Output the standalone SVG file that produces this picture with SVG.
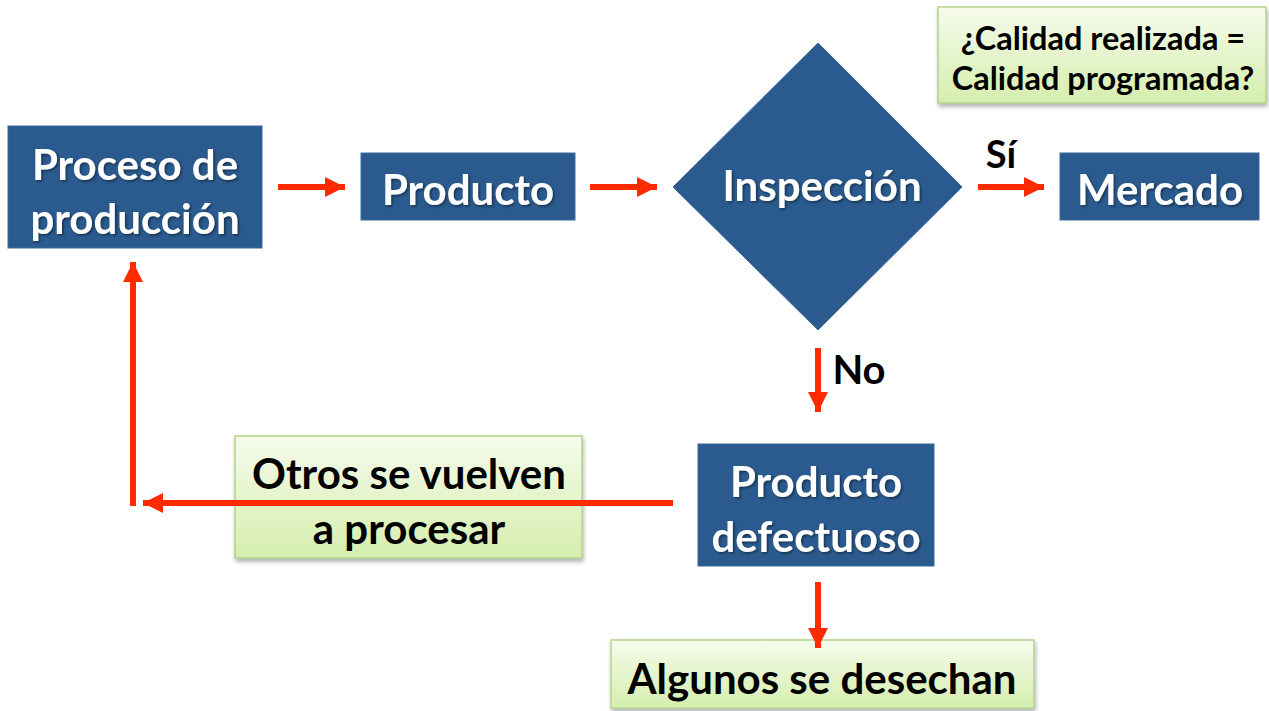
<svg xmlns="http://www.w3.org/2000/svg" width="1269" height="711" viewBox="0 0 1269 711">
<style>
.blue{fill:#2A5A8E;stroke:#3A6A9C;stroke-width:1}
.green{fill:url(#gg);stroke:#B3D38A;stroke-width:1.5;filter:url(#sh)}
.wt{font-family:Lato,"Open Sans",sans-serif;font-weight:700;fill:#FFFFFF;text-anchor:middle;filter:url(#ts)}
.bt{font-family:Lato,"Open Sans",sans-serif;font-weight:700;fill:#000000;text-anchor:middle}
.arr{stroke:#FF2A00;stroke-width:6;fill:none;marker-end:url(#ah)}
</style>
<defs>
<linearGradient id="gg" x1="0" y1="0" x2="0" y2="1">
<stop offset="0" stop-color="#F6FBEC"/>
<stop offset="1" stop-color="#D5EEAE"/>
</linearGradient>
<filter id="sh" x="-5%" y="-10%" width="110%" height="125%">
<feDropShadow dx="1" dy="3" stdDeviation="2" flood-color="#000" flood-opacity="0.3"/>
</filter>
<filter id="ts" x="-5%" y="-10%" width="110%" height="130%">
<feDropShadow dx="1.5" dy="1.5" stdDeviation="1" flood-color="#000" flood-opacity="0.45"/>
</filter>
<marker id="ah" markerUnits="userSpaceOnUse" markerWidth="22" markerHeight="22" viewBox="0 0 22 22" refX="20" refY="11" orient="auto">
<path d="M0,1 L20,11 L0,21 Z" fill="#FF2A00"/>
</marker>
</defs>
<g id="calidad">
<rect class="green" x="938" y="7" width="328" height="96"/>
<text class="bt" x="1103" y="50" font-size="32.5">¿Calidad realizada =</text>
<text class="bt" x="1103" y="90" font-size="32.5">Calidad programada?</text>
</g>
<g id="proceso">
<rect class="blue" x="8" y="126" width="254" height="122"/>
<text class="wt" x="135" y="180" font-size="42">Proceso de</text>
<text class="wt" x="135" y="234" font-size="42">producción</text>
</g>
<g id="producto">
<rect class="blue" x="361" y="153" width="214" height="67"/>
<text class="wt" x="468" y="205" font-size="42">Producto</text>
</g>
<g id="inspeccion">
<polygon class="blue" points="818,43 962,187 818,330 673,187"/>
<text class="wt" x="822" y="201" font-size="42">Inspección</text>
</g>
<g id="mercado">
<rect class="blue" x="1060" y="153" width="199" height="67"/>
<text class="wt" x="1160" y="205" font-size="42">Mercado</text>
</g>
<g id="defectuoso">
<rect class="blue" x="698" y="444" width="236" height="122"/>
<text class="wt" x="816" y="497" font-size="42">Producto</text>
<text class="wt" x="816" y="552" font-size="42">defectuoso</text>
</g>
<g id="otros">
<rect class="green" x="235" y="436" width="347" height="122"/>
<text class="bt" x="409" y="489" font-size="42">Otros se vuelven</text>
<text class="bt" x="409" y="544" font-size="42">a procesar</text>
</g>
<g id="algunos">
<rect class="green" x="611" y="640" width="423" height="68"/>
<text class="bt" x="822" y="694" font-size="42">Algunos se desechan</text>
</g>
<g id="connectors">
<line class="arr" x1="278" y1="187" x2="345" y2="187"/>
<line class="arr" x1="590" y1="187" x2="657" y2="187"/>
<line class="arr" x1="978" y1="187" x2="1044" y2="187"/>
<line class="arr" x1="818" y1="348" x2="818" y2="412"/>
<line class="arr" x1="818" y1="582" x2="818" y2="648"/>
<line class="arr" x1="673" y1="503" x2="143" y2="503"/>
<line class="arr" x1="133" y1="506" x2="133" y2="262"/>
<text class="bt" x="1001" y="168" font-size="38">Sí</text>
<text class="bt" x="859" y="384" font-size="40">No</text>
</g>
</svg>
